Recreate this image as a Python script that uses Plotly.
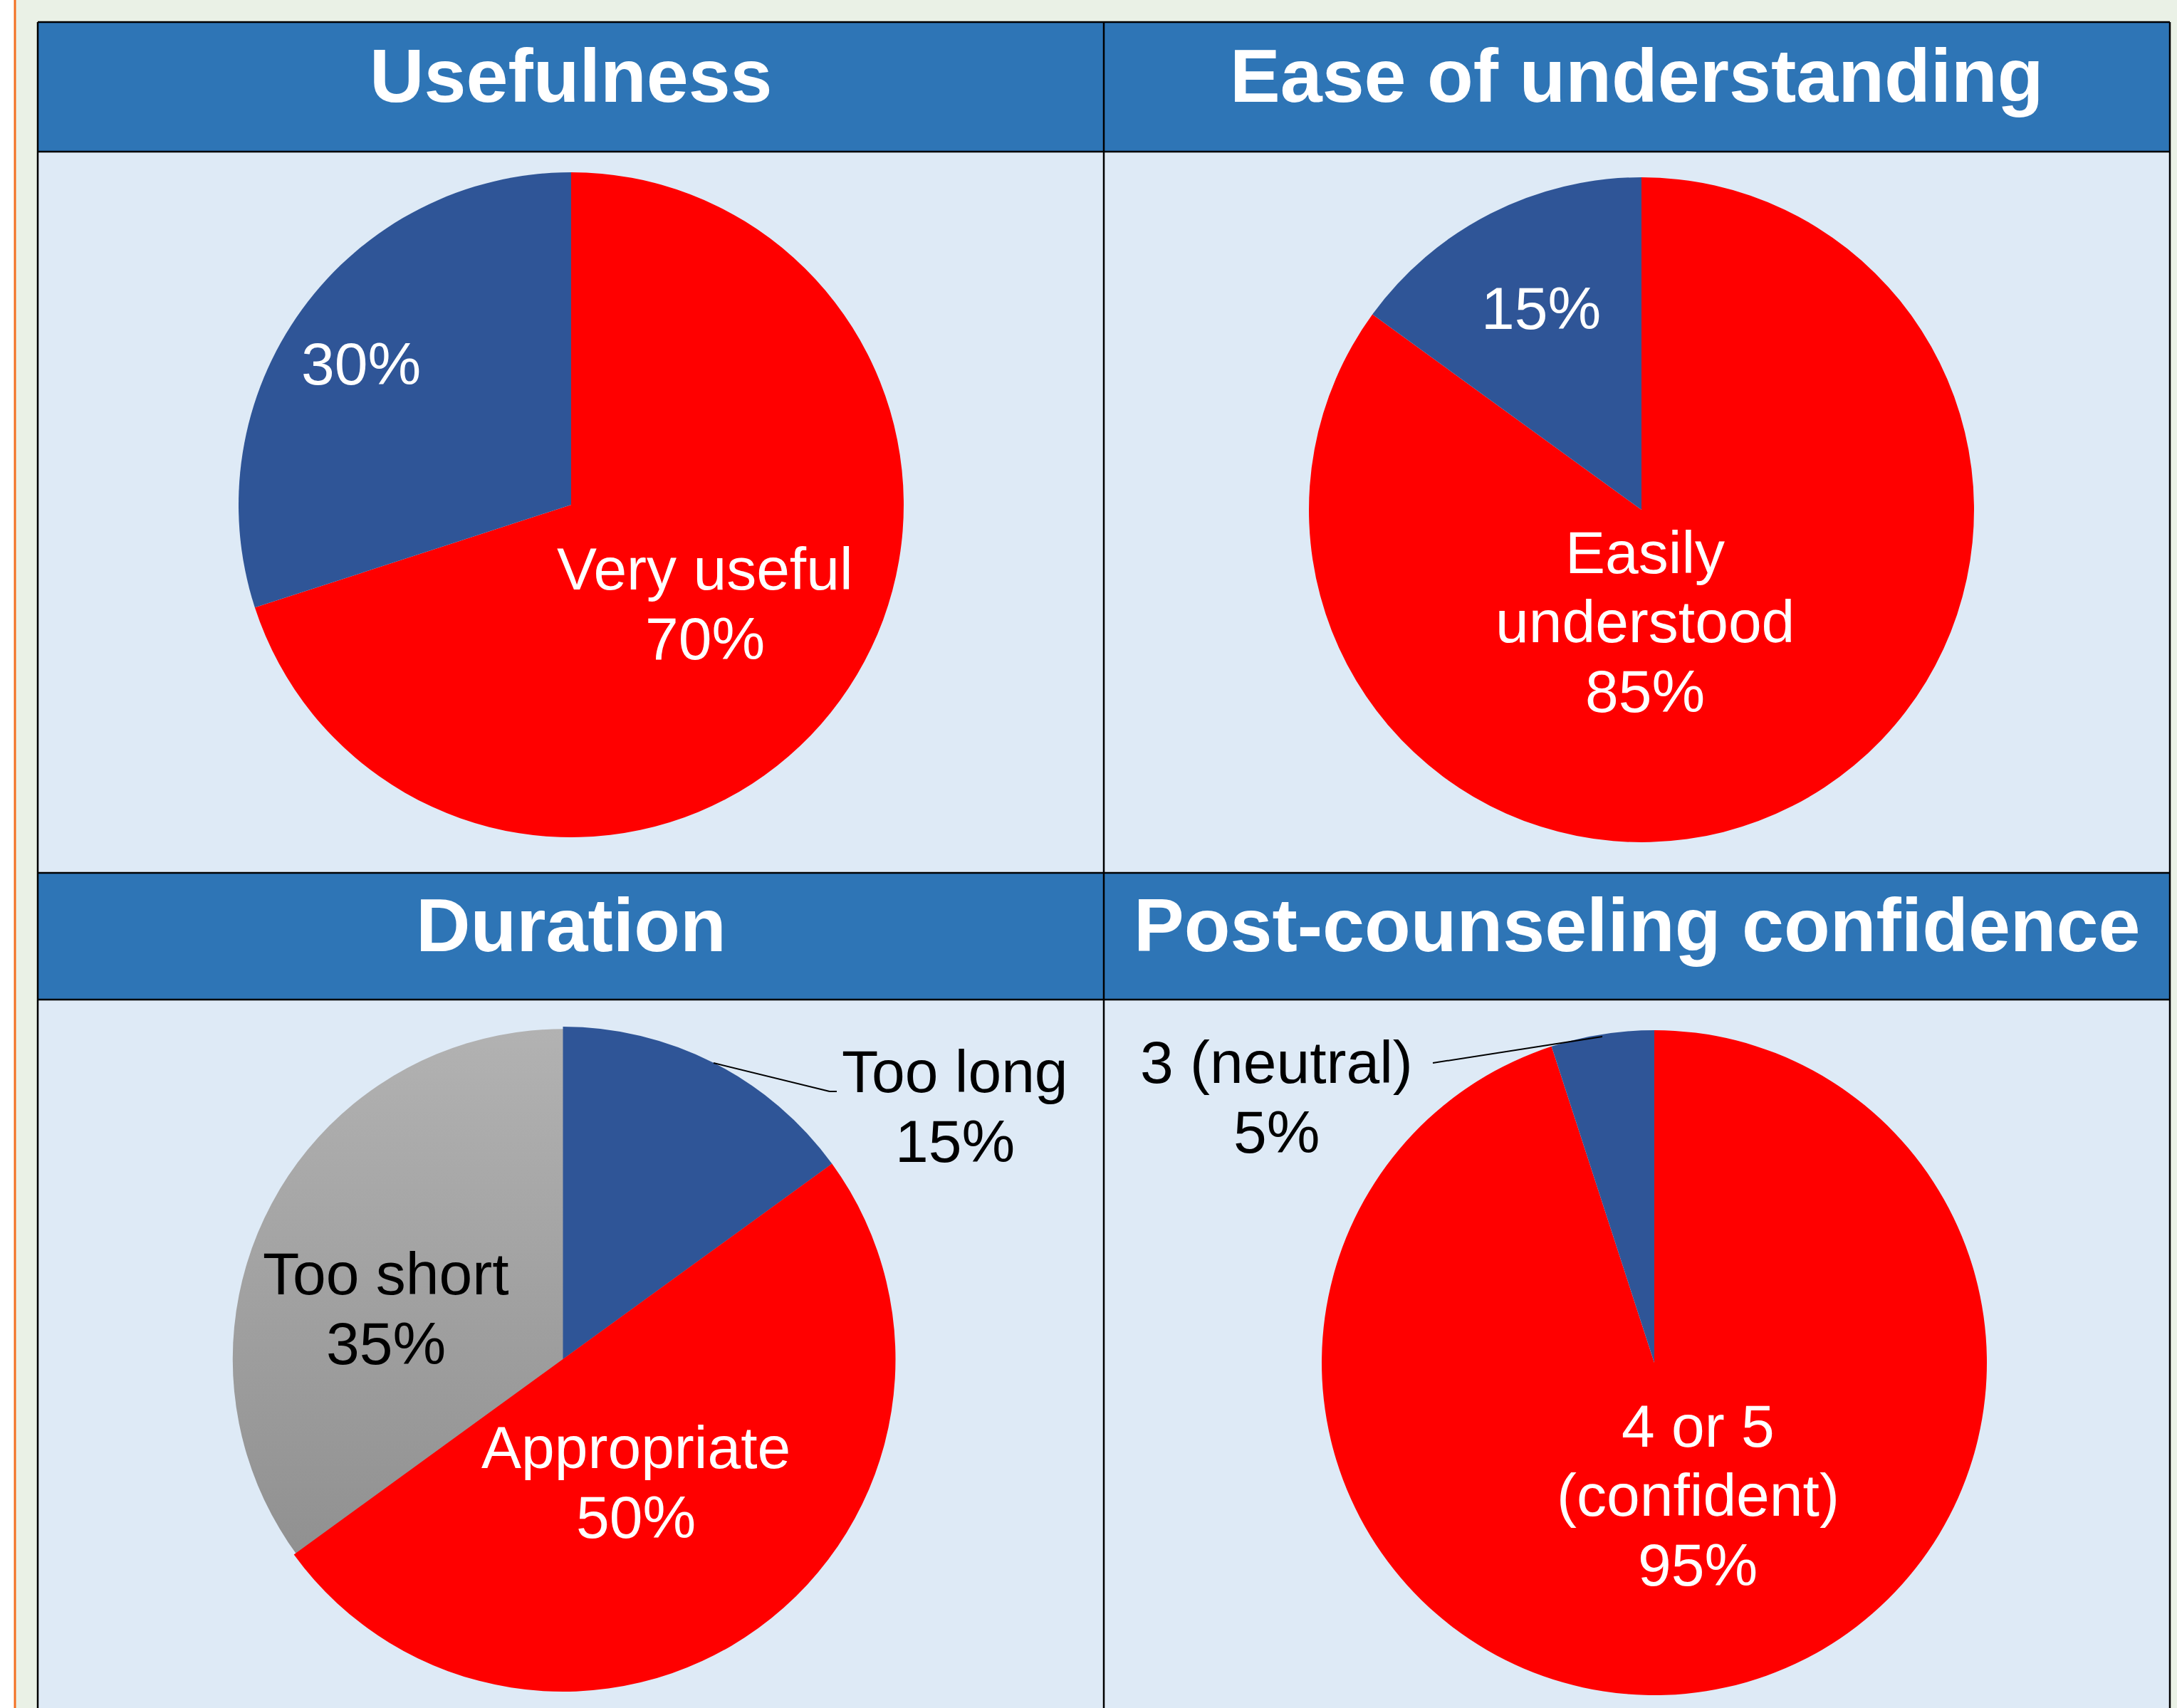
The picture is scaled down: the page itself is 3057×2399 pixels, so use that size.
import base64
import plotly.graph_objects as go

# ---------------- data ----------------
titles = ["Usefulness", "Ease of understanding", "Duration", "Post-counseling confidence"]

useful_cats = ["Very useful", "Less useful"]
useful_vals = [70, 30]
useful_names = [["Very useful"], []]

ease_cats = ["Easily understood", "Not easily understood"]
ease_vals = [85, 15]
ease_names = [["Easily", "understood"], []]

duration_cats = ["Too long", "Appropriate", "Too short"]
duration_vals = [15, 50, 35]
duration_names = [["Too long"], ["Appropriate"], ["Too short"]]

conf_cats = ["4 or 5 (confident)", "3 (neutral)"]
conf_vals = [95, 5]
conf_names = [["4 or 5", "(confident)"], ["3 (neutral)"]]

# ---------------- style / layout ----------------
W, H = 3057, 2399
RED = "#FF0000"
BLUE = "#2F5597"
GRAY = "rgba(0,0,0,0)"   # gray slice shows gradient disc underneath
HEADER = "#2E75B6"
BODY = "#DEEAF6"
GREEN = "#EAF1E6"
ORANGE = "#F37021"
FONT = "Liberation Sans, Arial, sans-serif"
LABEL_SIZE = 84
TITLE_SIZE = 106
LINE_H = 97.5

def px(x):
    return x / W

def py(y):
    return 1 - y / H

R = 467
pies = [
    dict(cats=useful_cats, vals=useful_vals, names=useful_names, colors=[RED, BLUE],
         c=(802, 709), label_pos=[(990, 848), (507, 511)], label_col=["white", "white"]),
    dict(cats=ease_cats, vals=ease_vals, names=ease_names, colors=[RED, BLUE],
         c=(2305, 716), label_pos=[(2310, 873), (2164, 433)], label_col=["white", "white"]),
    dict(cats=duration_cats, vals=duration_vals, names=duration_names, colors=[BLUE, RED, GRAY],
         c=(790.5, 1909), label_pos=[(1341, 1554), (893, 2082), (542, 1838)],
         label_col=["black", "white", "black"]),
    dict(cats=conf_cats, vals=conf_vals, names=conf_names, colors=[RED, BLUE],
         c=(2323, 1914), label_pos=[(2384, 2100), (1792, 1541)], label_col=["white", "black"]),
]

fig = go.Figure()
annotations = []
shapes = []
images = []

for p in pies:
    cx, cy = p["c"]
    fig.add_trace(go.Pie(
        labels=p["cats"], values=p["vals"], sort=False, direction="clockwise", rotation=0,
        marker=dict(colors=p["colors"], line=dict(width=0)),
        textinfo="none", hoverinfo="label+percent", showlegend=False,
        domain=dict(x=[px(cx - R), px(cx + R)], y=[py(cy + R), py(cy - R)]),
    ))
    for names, v, (lx, ly), col in zip(p["names"], p["vals"], p["label_pos"], p["label_col"]):
        lines = list(names) + [f"{v}%"]
        n = len(lines)
        for i, t in enumerate(lines):
            yy = ly + (i - (n - 1) / 2) * LINE_H
            annotations.append(dict(
                x=px(lx), y=py(yy), xref="paper", yref="paper", text=t, showarrow=False,
                xanchor="center", yanchor="middle",
                font=dict(family=FONT, size=LABEL_SIZE, color=col)))

# gradient disc under the duration pie (for the gray "Too short" slice)
svg = ("<svg xmlns='http://www.w3.org/2000/svg' width='200' height='200' viewBox='0 0 200 200'>"
       "<defs><linearGradient id='g' x1='0' y1='0' x2='0' y2='1'>"
       "<stop offset='0' stop-color='#B2B2B2'/><stop offset='1' stop-color='#888888'/>"
       "</linearGradient></defs><circle cx='100' cy='100' r='99.3' fill='url(#g)'/></svg>")
src = "data:image/svg+xml;base64," + base64.b64encode(svg.encode()).decode()
dcx, dcy = pies[2]["c"]
images.append(dict(source=src, xref="paper", yref="paper", x=px(dcx - R), y=py(dcy - R),
                   sizex=2 * R / W, sizey=2 * R / H, sizing="stretch",
                   xanchor="left", yanchor="top", layer="below"))

# background pieces (paper bg = body colour)
def rect(x0, y0, x1, y1, fill, lw=0, lc="black"):
    shapes.append(dict(type="rect", xref="paper", yref="paper",
                       x0=px(x0), x1=px(x1), y0=py(y1), y1=py(y0),
                       fillcolor=fill, line=dict(width=lw, color=lc), layer="below"))

def line(x0, y0, x1, y1, color="black", w=2.5, layer="above"):
    shapes.append(dict(type="line", xref="paper", yref="paper",
                       x0=px(x0), x1=px(x1), y0=py(y0), y1=py(y1),
                       line=dict(color=color, width=w), layer=layer))

rect(0, 0, 20, H, "white")
rect(20, 0, W, 31, GREEN)
rect(20, 0, 53, H, GREEN)
rect(3047, 0, W, H, GREEN)
line(21, 0, 21, H, ORANGE, 3, "below")

L, RGT, MID = 53, 3047, 1550
rows = [(31, 213), (1226, 1404)]
for (t, b) in rows:
    rect(L, t, RGT, b, HEADER)

# grid lines
for (t, b) in rows:
    line(L, t, RGT, t)
    line(L, b, RGT, b)
line(L, 31, L, H)
line(RGT, 31, RGT, H)
line(MID, 31, MID, H)

# titles
centers_x = [(L + MID) / 2, (MID + RGT) / 2]
for k, ttl in enumerate(titles):
    r = k // 2
    c = k % 2
    t, b = rows[r]
    annotations.append(dict(
        x=px(centers_x[c]), y=py((t + b) / 2 - 16), xref="paper", yref="paper",
        text=f"<b>{ttl}</b>", showarrow=False, xanchor="center", yanchor="middle",
        font=dict(family=FONT, size=TITLE_SIZE, color="white")))

# leader lines for outside labels
line(1002, 1493, 1165, 1533, "black", 2)
line(1165, 1533, 1175, 1533, "black", 2)
line(2250, 1456, 2012, 1493, "black", 2)

fig.update_layout(
    width=W, height=H, margin=dict(l=0, r=0, t=0, b=0),
    paper_bgcolor=BODY, plot_bgcolor=BODY,
    annotations=annotations, shapes=shapes, images=images,
    showlegend=False,
)
fig.write_html("out.html", config={"displayModeBar": False},
               post_script="document.body.style.margin='0';document.body.style.overflow='hidden';")
